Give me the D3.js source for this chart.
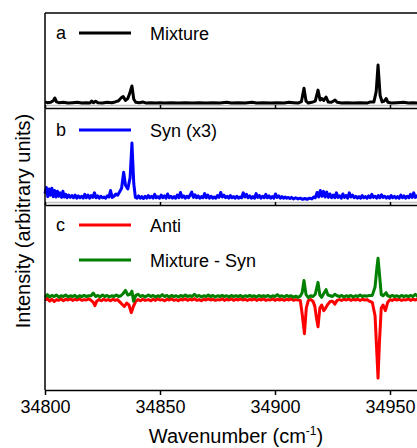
<!DOCTYPE html>
<html>
<head>
<meta charset="utf-8">
<script src="https://cdnjs.cloudflare.com/ajax/libs/d3/7.8.5/d3.min.js"></script>
<style>
  html, body { margin: 0; padding: 0; background: #fff; overflow: hidden; }
  svg { display: block; font-family: "Liberation Sans", Arial, sans-serif; }
</style>
</head>
<body>
<svg id="chart" width="417" height="448"></svg>
<script>
// wavenumber (cm-1), intensity (arb. units)
const mixture = [
  [34800,0.03],[34801,0.01],[34802.5,0.02],[34803.6,0.06],[34804.3,0.13],[34805,0.03],[34806,0.01],[34808,0.02],
  [34810,0.0],[34812,0.01],[34814,0.02],[34816,0.0],[34818,0.01],[34819.5,0.0],[34820.3,0.05],[34821,0.01],
  [34822,0.05],[34823,0.01],[34825,0.0],[34827,0.02],[34829,0.01],[34830.5,0.03],[34832,0.06],[34833,0.13],
  [34834,0.17],[34835,0.07],[34836,0.12],[34836.8,0.25],[34837.8,0.45],[34838.6,0.1],[34839.5,0.02],[34841,0.01],
  [34842.5,0.03],[34844,0.0],[34846,0.01],[34848,0.0],[34850,0.01],[34852,0.0],[34855,0.01],[34858,0.0],
  [34861,0.01],[34864,0.0],[34867,0.01],[34870,0.0],[34873,0.01],[34876,0.0],[34879,0.02],[34881,0.0],
  [34884,0.01],[34887,0.0],[34890,0.02],[34892,0.0],[34895,0.01],[34898,0.0],[34901,0.01],[34904,0.0],
  [34906,0.02],[34908,0.01],[34910,0.0],[34911.5,0.04],[34912.6,0.39],[34913.5,0.05],[34914.5,0.0],[34916,0.02],
  [34917.5,0.05],[34918.7,0.34],[34919.6,0.08],[34920.4,0.12],[34921.2,0.07],[34922.2,0.16],[34923.1,0.03],[34924.5,0.02],
  [34925.3,0.05],[34926.1,0.08],[34927,0.02],[34929,0.0],[34931,0.01],[34934,0.0],[34937,0.01],[34940,0.0],
  [34941.5,0.03],[34943,0.03],[34944,0.3],[34944.8,1.0],[34945.7,0.2],[34946.6,0.03],[34947.5,0.05],[34948.3,0.12],
  [34949.1,0.02],[34950.5,0.0],[34953,0.01],[34956,0.02],[34958,0.0],[34960,0.01],[34963,0.0],[34966,0.01]
];

const synX3 = [
  [34800,0.14],[34800.6,0.3],[34801.2,0.06],[34801.8,0.26],[34802.4,0.1],[34803,0.28],[34803.6,0.06],[34804.2,0.22],
  [34804.8,0.05],[34805.4,0.2],[34806,0.07],[34806.6,0.16],[34807.2,0.04],[34807.8,0.2],[34808.4,0.05],[34809,0.12],
  [34809.6,0.03],[34810.3,0.1],[34811,0.04],[34811.7,0.09],[34812.4,0.03],[34813.1,0.1],[34813.8,0.02],[34814.5,0.08],
  [34815.2,0.03],[34815.9,0.07],[34816.6,0.02],[34817.3,0.12],[34818,0.03],[34818.7,0.1],[34819.4,0.02],[34820.1,0.09],
  [34820.8,0.04],[34821.5,0.16],[34822.2,0.03],[34822.9,0.08],[34823.6,0.02],[34824.3,0.07],[34825,0.03],[34825.7,0.05],
  [34826.4,0.02],[34827.1,0.08],[34827.8,0.05],[34828.5,0.22],[34829.2,0.04],[34830,0.07],[34830.8,0.13],[34831.6,0.1],
  [34832.4,0.18],[34833.3,0.28],[34834.2,0.7],[34835,0.36],[34836,0.26],[34837,0.56],[34837.8,1.47],[34838.6,0.4],
  [34839.3,0.04],[34840,0.02],[34840.7,0.08],[34841.4,0.02],[34842.1,0.06],[34842.8,0.01],[34843.5,0.07],[34844.2,0.02],
  [34844.9,0.09],[34845.6,0.03],[34846.3,0.07],[34847,0.02],[34847.7,0.12],[34848.4,0.03],[34849.1,0.06],[34849.8,0.02],
  [34850.5,0.1],[34851.2,0.03],[34851.9,0.08],[34852.6,0.02],[34853.3,0.13],[34854,0.03],[34854.7,0.07],[34855.4,0.02],
  [34856.1,0.06],[34856.8,0.02],[34857.5,0.1],[34858.2,0.03],[34858.9,0.17],[34859.6,0.04],[34860.3,0.08],[34861,0.02],
  [34861.7,0.07],[34862.4,0.03],[34863.1,0.1],[34863.8,0.18],[34864.5,0.04],[34865.2,0.11],[34865.9,0.03],[34866.6,0.08],
  [34867.3,0.02],[34868,0.06],[34868.7,0.03],[34869.4,0.14],[34870.1,0.03],[34870.8,0.1],[34871.5,0.02],[34872.2,0.07],
  [34872.9,0.02],[34873.6,0.05],[34874.3,0.02],[34875,0.09],[34875.7,0.04],[34876.4,0.17],[34877.1,0.05],[34877.8,0.1],
  [34878.5,0.03],[34879.2,0.07],[34879.9,0.02],[34880.6,0.09],[34881.3,0.03],[34882,0.06],[34882.7,0.02],[34883.4,0.07],
  [34884.1,0.02],[34884.8,0.05],[34885.5,0.03],[34886.2,0.16],[34886.9,0.05],[34887.6,0.12],[34888.3,0.03],[34889,0.08],
  [34889.7,0.02],[34890.4,0.06],[34891.1,0.02],[34891.8,0.14],[34892.5,0.04],[34893.2,0.09],[34893.9,0.02],[34894.6,0.07],
  [34895.3,0.03],[34896,0.12],[34896.7,0.03],[34897.4,0.08],[34898.1,0.02],[34898.8,0.06],[34899.5,0.02],[34900.2,0.13],
  [34900.9,0.04],[34901.6,0.08],[34902.3,0.02],[34903,0.06],[34903.7,0.02],[34904.4,0.05],[34905.1,0.02],[34905.8,0.04],
  [34906.5,0.01],[34907.2,0.04],[34908,0.0],[34909,0.03],[34910,0.0],[34911,0.02],[34912,-0.01],[34913,0.01],
  [34914,-0.01],[34915,0.02],[34916,0.0],[34916.8,0.05],[34917.5,0.03],[34918.3,0.17],[34919,0.05],[34919.7,0.22],
  [34920.4,0.07],[34921.1,0.2],[34921.8,0.05],[34922.5,0.18],[34923.2,0.04],[34923.9,0.13],[34924.6,0.03],[34925.3,0.1],
  [34926,0.03],[34926.7,0.16],[34927.4,0.04],[34928.1,0.08],[34928.8,0.02],[34929.5,0.13],[34930.2,0.04],[34930.9,0.09],
  [34931.6,0.02],[34932.3,0.16],[34933,0.05],[34933.7,0.1],[34934.4,0.03],[34935.1,0.07],[34935.8,0.02],[34936.5,0.06],
  [34937.2,0.02],[34937.9,0.09],[34938.6,0.03],[34939.3,0.06],[34940,0.02],[34940.7,0.08],[34941.4,0.03],[34942.1,0.12],
  [34942.8,0.04],[34943.5,0.07],[34944.2,0.02],[34944.9,0.09],[34945.6,0.03],[34946.3,0.11],[34947,0.04],[34947.7,0.07],
  [34948.4,0.02],[34949.1,0.06],[34949.8,0.02],[34950.5,0.09],[34951.2,0.03],[34951.9,0.07],[34952.6,0.02],[34953.3,0.06],
  [34954,0.02],[34954.7,0.1],[34955.4,0.03],[34956.1,0.08],[34956.8,0.02],[34957.5,0.07],[34958.2,0.03],[34958.9,0.12],
  [34959.6,0.04],[34960.3,0.16],[34961,0.04],[34961.7,0.08],[34962.4,0.02],[34963.1,0.07],[34963.8,0.03],[34964.5,0.09],
  [34966,0.03]
];

const anti = [
  [34800,-0.1],[34801,-0.05],[34802,-0.12],[34803,-0.07],[34804,-0.13],[34805,-0.08],[34806,-0.1],[34807,-0.06],
  [34808,-0.11],[34809,-0.07],[34810,-0.09],[34811,-0.06],[34812,-0.1],[34813,-0.07],[34814,-0.09],[34815,-0.06],
  [34816,-0.1],[34817,-0.08],[34818,-0.09],[34819,-0.06],[34820,-0.1],[34821,-0.15],[34821.7,-0.24],[34822.5,-0.12],
  [34823.5,-0.08],[34824.5,-0.11],[34825.5,-0.07],[34826.5,-0.1],[34827.5,-0.08],[34828.5,-0.11],[34829.5,-0.07],[34830.5,-0.1],
  [34831.5,-0.08],[34832.5,-0.14],[34833.5,-0.2],[34834.5,-0.26],[34835.5,-0.17],[34836.5,-0.22],[34837.5,-0.42],[34838.5,-0.25],
  [34839.5,-0.12],[34840.5,-0.08],[34841.5,-0.11],[34842.5,-0.07],[34843.5,-0.1],[34845,-0.08],[34846,-0.11],[34847,-0.07],
  [34848,-0.1],[34849,-0.06],[34850,-0.09],[34851,-0.08],[34852,-0.11],[34853,-0.07],[34854,-0.09],[34855,-0.06],
  [34856,-0.1],[34857,-0.08],[34858,-0.11],[34859,-0.07],[34860,-0.09],[34861,-0.06],[34862,-0.1],[34863,-0.07],
  [34864,-0.09],[34865,-0.06],[34866,-0.1],[34867,-0.08],[34868,-0.11],[34869,-0.07],[34870,-0.09],[34871,-0.06],
  [34872,-0.09],[34873,-0.07],[34874,-0.1],[34875,-0.08],[34876,-0.09],[34877,-0.06],[34878,-0.1],[34879,-0.07],
  [34880,-0.09],[34881,-0.06],[34882,-0.1],[34883,-0.07],[34884,-0.09],[34885,-0.06],[34886,-0.09],[34887,-0.07],
  [34888,-0.1],[34889,-0.07],[34890,-0.09],[34891,-0.06],[34892,-0.1],[34893,-0.07],[34894,-0.09],[34895,-0.06],
  [34896,-0.1],[34897,-0.08],[34898,-0.09],[34899,-0.06],[34900,-0.1],[34901,-0.07],[34902,-0.09],[34903,-0.07],
  [34904,-0.1],[34905,-0.07],[34906,-0.09],[34907,-0.06],[34908,-0.1],[34909,-0.08],[34910,-0.09],[34911,-0.1],
  [34911.8,-0.45],[34912.8,-0.97],[34913.6,-0.3],[34914.5,-0.1],[34915.5,-0.08],[34916.5,-0.12],[34917.3,-0.25],[34918,-0.55],
  [34918.7,-0.79],[34919.5,-0.3],[34920.3,-0.22],[34921.2,-0.37],[34922,-0.3],[34923,-0.2],[34924,-0.13],[34925,-0.12],
  [34926,-0.2],[34927,-0.1],[34928,-0.08],[34929,-0.1],[34930,-0.07],[34931,-0.09],[34932,-0.06],[34933,-0.1],
  [34934,-0.07],[34935,-0.09],[34936,-0.07],[34937,-0.1],[34938,-0.07],[34939,-0.09],[34940,-0.08],[34941,-0.12],
  [34942.3,-0.15],[34943.5,-0.5],[34944.3,-1.5],[34944.8,-2.13],[34945.4,-1.2],[34946.2,-0.3],[34947,-0.22],[34948,-0.37],
  [34949,-0.15],[34950,-0.08],[34951,-0.1],[34952,-0.07],[34953,-0.09],[34954,-0.07],[34955,-0.1],[34956,-0.08],
  [34957,-0.09],[34958,-0.06],[34959,-0.1],[34960,-0.07],[34961,-0.09],[34962,-0.07],[34963,-0.1],[34964,-0.08],
  [34966,-0.09]
];

const mixtureMinusSyn = [
  [34800,-0.02],[34801,0.05],[34802,-0.01],[34803,0.03],[34804,0.0],[34805,0.04],[34806,-0.02],[34807,0.02],
  [34808,0.0],[34809,0.04],[34810,-0.01],[34811,0.02],[34812,0.0],[34813,0.03],[34814,-0.02],[34815,0.02],
  [34816,0.0],[34817,0.03],[34818,0.0],[34819,0.02],[34820,0.02],[34821,0.09],[34822,0.0],[34823,0.03],
  [34824,-0.01],[34825,0.04],[34826,0.0],[34827,0.03],[34828,-0.01],[34829,0.02],[34830,0.0],[34831,0.04],
  [34832,0.0],[34833,0.02],[34834,0.08],[34835,0.16],[34836,0.04],[34837,0.06],[34837.8,0.14],[34838.5,-0.12],
  [34839.5,0.03],[34840.5,0.06],[34841.5,0.0],[34842.5,0.03],[34843.5,-0.01],[34845,0.04],[34846,0.0],[34847,0.03],
  [34848,-0.01],[34849,0.02],[34850,0.0],[34851,0.05],[34852,0.0],[34853,0.03],[34854,-0.01],[34855,0.03],
  [34856,0.0],[34857,0.02],[34858,-0.01],[34859,0.03],[34860,0.0],[34861,0.04],[34862,0.0],[34863,0.02],
  [34864,0.0],[34865,0.06],[34866,0.0],[34867,0.03],[34868,-0.01],[34869,0.02],[34870,0.0],[34871,0.04],
  [34872,0.0],[34873,0.03],[34874,-0.01],[34875,0.02],[34876,0.0],[34877,0.03],[34878,0.0],[34879,0.02],
  [34880,-0.01],[34881,0.03],[34882,0.0],[34883,0.02],[34884,0.0],[34885,0.03],[34886,-0.01],[34887,0.02],
  [34888,0.0],[34889,0.03],[34890,0.0],[34891,0.02],[34892,-0.01],[34893,0.03],[34894,0.0],[34895,0.02],
  [34896,0.0],[34897,0.03],[34898,-0.01],[34899,0.02],[34900,0.0],[34901,0.05],[34902,0.0],[34903,0.02],
  [34904,-0.01],[34905,0.03],[34906,0.0],[34907,0.02],[34908,-0.02],[34909,0.01],[34910,-0.02],[34911,0.01],
  [34911.8,0.1],[34912.6,0.42],[34913.5,0.05],[34914.5,-0.03],[34915.5,0.02],[34916.5,0.0],[34917.5,0.06],[34918.7,0.37],
  [34919.5,0.04],[34920.3,-0.02],[34921.2,0.08],[34922.2,0.18],[34923,0.04],[34924,0.02],[34925,0.0],[34926,0.06],
  [34927,0.02],[34928,0.0],[34929,0.03],[34930,-0.01],[34931,0.02],[34932,0.0],[34933,0.03],[34934,-0.01],
  [34935,0.02],[34936,0.0],[34937,0.04],[34938,0.0],[34939,0.02],[34940,0.01],[34941,0.03],[34942.3,0.03],
  [34943.5,0.25],[34944.3,0.75],[34944.8,1.0],[34945.4,0.6],[34946.2,0.05],[34947,0.02],[34948.3,0.1],[34949,0.02],
  [34950,0.0],[34951,0.03],[34952,0.0],[34953,0.02],[34954,-0.01],[34955,0.03],[34956,0.0],[34957,0.02],
  [34958,0.0],[34959,0.03],[34960,0.0],[34961,0.06],[34962,0.0],[34963,0.03],[34964,0.0],[34966,0.02]
];

const xTicks = [34800, 34850, 34900, 34950];

const svg = d3.select("#chart");
const left = 45;

const x = d3.scaleLinear().domain([34800, 34966]).range([left, left + 166 * 2.3]);
const plotRight = x(34966);

// each panel: pixel top/bottom and the intensity range shown
const panels = [
  { id: "a", top: 13, bottom: 108, domain: [-0.13, 2.37] },
  { id: "b", top: 108, bottom: 205, domain: [-0.16, 2.39] },
  { id: "c", top: 205, bottom: 390, domain: [-2.44, 2.39] }
];
panels.forEach((p) => {
  p.y = d3.scaleLinear().domain(p.domain).range([p.bottom, p.top]);
});

const series = [
  { panel: 0, data: mixture, color: "#000000", label: "Mixture" },
  { panel: 1, data: synX3, color: "#0000ff", label: "Syn (x3)" },
  { panel: 2, data: anti, color: "#ff0000", label: "Anti" },
  { panel: 2, data: mixtureMinusSyn, color: "#008000", label: "Mixture - Syn" }
];

// faint grey rule just above the lower spine of panels a and b
panels.slice(0, 2).forEach((p) => {
  svg.append("line")
    .attr("x1", left).attr("x2", plotRight)
    .attr("y1", p.bottom - 2.5).attr("y2", p.bottom - 2.5)
    .attr("stroke", "#c4c4c4").attr("stroke-width", 1.5);
});

series.forEach((s) => {
  const p = panels[s.panel];
  const line = d3.line().x((d) => x(d[0])).y((d) => p.y(d[1]));
  svg.append("path")
    .datum(s.data)
    .attr("fill", "none")
    .attr("stroke", s.color)
    .attr("stroke-width", 3)
    .attr("stroke-linejoin", "round")
    .attr("d", line);
});

// frame: left spine, top of panel a, bottom of each panel
svg.append("line")
  .attr("x1", left).attr("x2", left)
  .attr("y1", panels[0].top).attr("y2", panels[2].bottom)
  .attr("stroke", "#000").attr("stroke-width", 1.5);
svg.append("line")
  .attr("x1", left).attr("x2", plotRight)
  .attr("y1", panels[0].top).attr("y2", panels[0].top)
  .attr("stroke", "#000").attr("stroke-width", 1.5);

panels.forEach((p, i) => {
  const last = i === panels.length - 1;
  const axis = d3.axisBottom(x)
    .tickValues(xTicks)
    .tickSizeOuter(0)
    .tickSizeInner(last ? 5 : -3)
    .tickFormat(last ? d3.format("d") : "");
  const g = svg.append("g")
    .attr("transform", `translate(0,${p.bottom})`)
    .call(axis);
  g.select(".domain").attr("stroke-width", 1.5);
  g.selectAll(".tick line").attr("stroke-width", 1.5);
  g.selectAll(".tick text")
    .attr("font-size", 18)
    .attr("font-family", "'Liberation Sans', Arial, sans-serif")
    .attr("fill", "#000")
    .attr("y", 10);
});

// legends
const legendRows = [
  { s: 0, y: 33, tag: "a" },
  { s: 1, y: 130, tag: "b" },
  { s: 2, y: 225, tag: "c" },
  { s: 3, y: 260, tag: "" }
];
legendRows.forEach((r) => {
  const s = series[r.s];
  if (r.tag) {
    svg.append("text")
      .attr("x", 56).attr("y", r.y + 6)
      .attr("font-size", 18)
      .text(r.tag);
  }
  svg.append("line")
    .attr("x1", 79).attr("x2", 131)
    .attr("y1", r.y).attr("y2", r.y)
    .attr("stroke", s.color).attr("stroke-width", 3);
  svg.append("text")
    .attr("x", 150).attr("y", r.y + 6.5)
    .attr("font-size", 18)
    .text(s.label);
});

// axis titles
const xTitle = svg.append("text")
  .attr("x", 236).attr("y", 443)
  .attr("text-anchor", "middle")
  .attr("font-size", 20);
xTitle.append("tspan").text("Wavenumber (cm");
xTitle.append("tspan").attr("font-size", 12).attr("dy", -8).text("-1");
xTitle.append("tspan").attr("dy", 8).text(")");

svg.append("text")
  .attr("transform", "translate(30,221) rotate(-90)")
  .attr("text-anchor", "middle")
  .attr("font-size", 20)
  .text("Intensity (arbitrary units)");
</script>
</body>
</html>
